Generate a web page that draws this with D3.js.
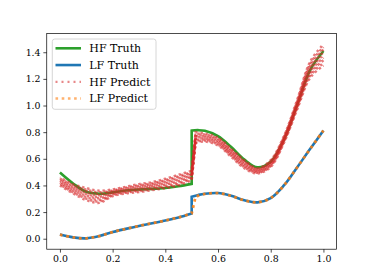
<!DOCTYPE html>
<html>
<head>
<meta charset="utf-8">
<script src="https://cdn.jsdelivr.net/npm/d3@7"></script>
<style>
    body { margin: 0; background: #fff; }
    text { font-family: 'DejaVu Serif', serif; fill: #000; }
</style>
</head>
<body>
<div id="chart-container"></div>
<script>
// values
const xLeft = [0, 0.05, 0.1, 0.15, 0.2, 0.25, 0.3, 0.35, 0.4, 0.45, 0.5];
const xRightTruth = [0.5, 0.525, 0.55, 0.6, 0.65, 0.7, 0.75, 0.8, 0.85, 0.9, 0.95, 1.0];
const xRightPred = [0.515, 0.55, 0.6, 0.65, 0.7, 0.75, 0.8, 0.85, 0.9, 0.95, 1.0];

const hfTruthLeft = [0.497, 0.415, 0.352, 0.338, 0.348, 0.362, 0.37, 0.374, 0.381, 0.394, 0.412];
const hfTruthRight = [0.812, 0.815, 0.81, 0.77, 0.688, 0.594, 0.536, 0.578, 0.744, 1.004, 1.268, 1.409];

const lfTruthLeft = [0.031, 0.01, 0.003, 0.02, 0.05, 0.074, 0.096, 0.116, 0.137, 0.16, 0.19];
const lfTruthRight = [0.316, 0.329, 0.338, 0.343, 0.322, 0.289, 0.273, 0.305, 0.4, 0.535, 0.675, 0.812];

const hfPredLowLeft = [0.4, 0.34, 0.29, 0.27, 0.32, 0.34, 0.35, 0.365, 0.38, 0.4, 0.44];
const hfPredHighLeft = [0.46, 0.41, 0.38, 0.36, 0.37, 0.39, 0.41, 0.425, 0.45, 0.48, 0.51];
const hfPredLowRight = [0.72, 0.73, 0.7, 0.615, 0.53, 0.49, 0.54, 0.72, 0.97, 1.21, 1.3];
const hfPredHighRight = [0.8, 0.79, 0.76, 0.675, 0.59, 0.53, 0.59, 0.77, 1.04, 1.33, 1.46];

const lfPredLeft = [0.03, 0.01, 0.003, 0.02, 0.05, 0.074, 0.096, 0.116, 0.137, 0.16, 0.19];
const lfPredRight = [0.318, 0.336, 0.342, 0.322, 0.288, 0.273, 0.305, 0.4, 0.535, 0.675, 0.812];

const xTicks = [0, 0.2, 0.4, 0.6, 0.8, 1.0];
const yTicks = [0, 0.2, 0.4, 0.6, 0.8, 1.0, 1.2, 1.4];

const legendItems = [
    { label: 'HF Truth', color: '#2ca02c', dash: null, opacity: 1, width: 2.6 },
    { label: 'LF Truth', color: '#1f77b4', dash: null, opacity: 1, width: 2.6 },
    { label: 'HF Predict', color: '#d62728', dash: '2,4', opacity: 0.55, width: 2.2 },
    { label: 'LF Predict', color: '#ff7f0e', dash: '2.6,3.6', opacity: 0.6, width: 2.6 },
];

const WIDTH = 374;
const HEIGHT = 280;
const AX_LEFT = 46.75;
const AX_RIGHT = 336.6;
const AX_TOP = 33.6;
const AX_BOTTOM = 249.2;

const x = d3.scaleLinear().domain([-0.05, 1.05]).range([AX_LEFT, AX_RIGHT]);
const y = d3.scaleLinear().domain([-0.0786, 1.54]).range([AX_BOTTOM, AX_TOP]);

const svg = d3
    .select('#chart-container')
    .append('svg')
    .attr('width', WIDTH)
    .attr('height', HEIGHT)
    .attr('viewBox', [0, 0, WIDTH, HEIGHT]);

const lineGen = d3
    .line()
    .x((d) => x(d[0]))
    .y((d) => y(d[1]))
    .curve(d3.curveCatmullRom);

// two smooth pieces joined by a straight jump
function splitPath(xa, ya, xb, yb) {
    const left = lineGen(xa.map((v, i) => [v, ya[i]]));
    const right = lineGen(xb.map((v, i) => [v, yb[i]]));
    return left + right.replace(/^M/, 'L');
}

const plot = svg.append('g');

plot.append('path')
    .attr('d', splitPath(xLeft, hfTruthLeft, xRightTruth, hfTruthRight))
    .attr('fill', 'none')
    .attr('stroke', '#2ca02c')
    .attr('stroke-width', 2.6);

plot.append('path')
    .attr('d', splitPath(xLeft, lfTruthLeft, xRightTruth, lfTruthRight))
    .attr('fill', 'none')
    .attr('stroke', '#1f77b4')
    .attr('stroke-width', 2.6);

// prediction band: a bundle of dotted lines between low and high, dash phases staggered
const bandSteps = [0, 0.12, 0.25, 0.37, 0.5, 0.62, 0.75, 0.87, 1];
const dashPhase = [0, 2.4, 4.3, 1.2, 3.5, 0.6, 2.9, 4.8, 1.8];
bandSteps.forEach((t, k) => {
    const mix = (lo, hi) => lo.map((v, i) => v + (hi[i] - v) * t);
    plot.append('path')
        .attr('d', splitPath(xLeft, mix(hfPredLowLeft, hfPredHighLeft), xRightPred, mix(hfPredLowRight, hfPredHighRight)))
        .attr('fill', 'none')
        .attr('stroke', '#d62728')
        .attr('stroke-width', 2.5)
        .attr('stroke-dasharray', '2.4,2.8')
        .attr('stroke-dashoffset', dashPhase[k])
        .attr('opacity', 0.62);
});

plot.append('path')
    .attr('d', splitPath(xLeft, lfPredLeft, xRightPred, lfPredRight))
    .attr('fill', 'none')
    .attr('stroke', '#ff7f0e')
    .attr('stroke-width', 2.8)
    .attr('stroke-dasharray', '2.8,3.6')
    .attr('opacity', 0.85);

// axes
const xAxis = svg
    .append('g')
    .attr('transform', `translate(0,${AX_BOTTOM})`)
    .call(d3.axisBottom(x).tickValues(xTicks).tickFormat(d3.format('.1f')).tickSize(3.4).tickPadding(2.8));
const yAxis = svg
    .append('g')
    .attr('transform', `translate(${AX_LEFT},0)`)
    .call(d3.axisLeft(y).tickValues(yTicks).tickFormat(d3.format('.1f')).tickSize(3.4).tickPadding(2.8));
[xAxis, yAxis].forEach((g) => {
    g.select('.domain').remove();
    g.selectAll('line').attr('stroke', '#000').attr('stroke-width', 0.7);
    g.selectAll('text').attr('font-family', 'DejaVu Serif').attr('font-size', 9.4).attr('fill', '#000');
});

svg.append('rect')
    .attr('x', AX_LEFT)
    .attr('y', AX_TOP)
    .attr('width', AX_RIGHT - AX_LEFT)
    .attr('height', AX_BOTTOM - AX_TOP)
    .attr('fill', 'none')
    .attr('stroke', '#000')
    .attr('stroke-width', 0.7);

// legend
const legend = svg.append('g');
legend.append('rect')
    .attr('x', 52.3)
    .attr('y', 39)
    .attr('width', 103.7)
    .attr('height', 70.3)
    .attr('rx', 2.5)
    .attr('fill', '#fff')
    .attr('fill-opacity', 0.8)
    .attr('stroke', '#ccc')
    .attr('stroke-width', 0.8);

const row = legend
    .selectAll('g.row')
    .data(legendItems)
    .join('g')
    .attr('class', 'row')
    .attr('transform', (d, i) => `translate(0,${48.3 + i * 16.75})`);
row.append('line')
    .attr('x1', 55.5)
    .attr('x2', 81)
    .attr('stroke', (d) => d.color)
    .attr('stroke-width', (d) => d.width)
    .attr('stroke-dasharray', (d) => d.dash)
    .attr('opacity', (d) => d.opacity);
row.append('text')
    .attr('x', 89.3)
    .attr('dy', '0.35em')
    .attr('font-size', 11)
    .text((d) => d.label);
</script>
</body>
</html>
